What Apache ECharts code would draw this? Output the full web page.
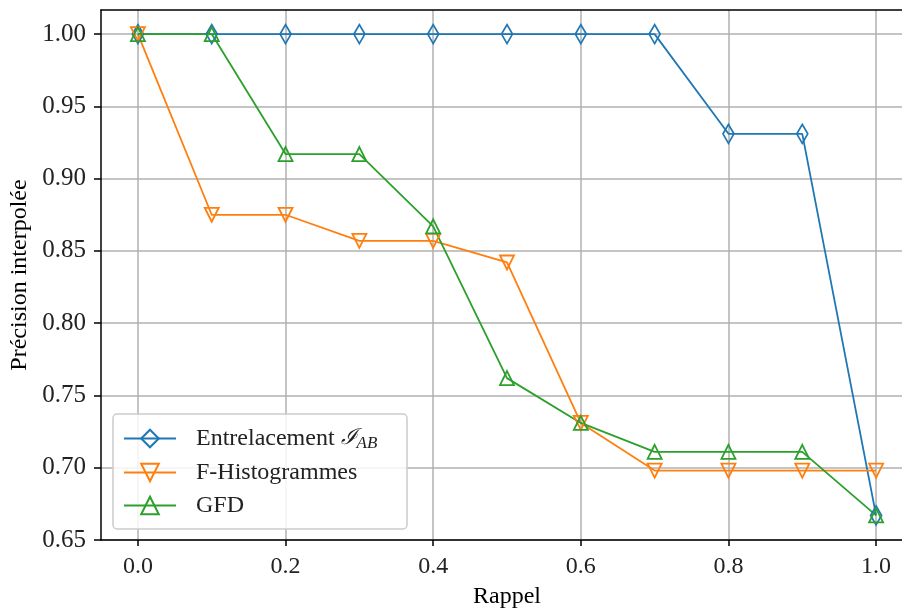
<!DOCTYPE html>
<html>
<head>
<meta charset="utf-8">
<script src="https://cdn.jsdelivr.net/npm/echarts@6/dist/echarts.min.js"></script>
<style>html,body{margin:0;padding:0;background:#fff}#c{width:902px;height:608px}</style>
</head>
<body>
<div id="c"></div>
<script>
const recall = [0.0, 0.1, 0.2, 0.3, 0.4, 0.5, 0.6, 0.7, 0.8, 0.9, 1.0];
const entrelacement = [1.0, 1.0, 1.0, 1.0, 1.0, 1.0, 1.0, 1.0, 0.931, 0.931, 0.667];
const fHistogrammes = [1.0, 0.875, 0.875, 0.857, 0.857, 0.842, 0.731, 0.698, 0.698, 0.698, 0.698];
const gfd = [1.0, 1.0, 0.917, 0.917, 0.867, 0.762, 0.731, 0.711, 0.711, 0.711, 0.667];
const xTicks = [0.0, 0.2, 0.4, 0.6, 0.8, 1.0];
const yTicks = [0.65, 0.70, 0.75, 0.80, 0.85, 0.90, 0.95, 1.00];
const seriesNames = ['Entrelacement', 'F-Histogrammes', 'GFD'];

const FONT = '"Liberation Serif", "DejaVu Serif", serif';
const pairs = ys => recall.map((x, i) => [x, ys[i]]);

const chart = echarts.init(document.getElementById('c'), null, {renderer: 'canvas'});
function mk(name, ys, color, symbol, size, rot) {
  return {
    name: name, type: 'line', data: pairs(ys),
    symbol: symbol, symbolSize: size, symbolRotate: rot,
    showAllSymbol: true,
    lineStyle: {color: color, width: 1.8},
    itemStyle: {color: 'rgba(255,255,255,0)', borderColor: color, borderWidth: 1.8},
    emphasis: {disabled: true},
    animation: false
  };
}
chart.setOption({
  animation: false,
  grid: {left: 101, top: 10, width: 812, height: 530, containLabel: false, outerBoundsMode: 'none'},
  xAxis: [{
    type: 'value', min: -0.05, max: 1.05,
    name: 'Rappel', nameLocation: 'middle', nameGap: 45,
    nameTextStyle: {fontFamily: FONT, fontSize: 24, color: '#000'},
    axisLine: {show: true, onZero: false, lineStyle: {color: '#000', width: 1.5}},
    axisTick: {show: true, length: 6, lineStyle: {color: '#000', width: 1.5}, customValues: xTicks},
    axisLabel: {customValues: xTicks, fontFamily: FONT, fontSize: 24, color: '#222', margin: 15,
      formatter: v => v.toFixed(1)},
    splitLine: {show: true, lineStyle: {color: '#b0b0b0', width: 1.5}}
  }, {
    type: 'value', position: 'top', min: -0.05, max: 1.05,
    axisLine: {show: true, onZero: false, lineStyle: {color: '#000', width: 1.5}},
    axisTick: {show: false}, axisLabel: {show: false}, splitLine: {show: false}
  }],
  yAxis: {
    type: 'value', min: 0.65, max: 1.01667,
    name: 'Précision interpolée', nameLocation: 'middle', nameGap: 68,
    nameTextStyle: {fontFamily: FONT, fontSize: 24, color: '#000'},
    axisLine: {show: true, onZero: false, lineStyle: {color: '#000', width: 1.5}},
    axisTick: {show: true, length: 7, lineStyle: {color: '#000', width: 1.5}, customValues: yTicks},
    axisLabel: {customValues: yTicks, fontFamily: FONT, fontSize: 25, color: '#222', margin: 15,
      formatter: v => v.toFixed(2)},
    splitLine: {show: true, lineStyle: {color: '#b0b0b0', width: 1.5}}
  },
  legend: {
    orient: 'vertical', left: 113, top: 414,
    data: seriesNames,
    itemWidth: 52, itemHeight: 22, itemGap: 8,
    padding: [11, 10, 11, 10],
    backgroundColor: 'rgba(255,255,255,0.85)',
    borderColor: '#cccccc', borderWidth: 1.5, borderRadius: 4,
    selectedMode: false,
    formatter: n => n === 'Entrelacement' ? '{n|Entrelacement }{i|ℐ}{s|AB}' : '{n|' + n + '}',
    textStyle: {
      fontFamily: FONT, fontSize: 24, color: '#222', padding: [0, 0, 0, 15], width: 201, lineHeight: 25,
      rich: {
        n: {fontFamily: FONT, fontSize: 24, color: '#222', lineHeight: 25},
        i: {fontFamily: '"DejaVu Serif", serif', fontStyle: 'italic', fontSize: 22, color: '#222', lineHeight: 25},
        s: {fontFamily: FONT, fontStyle: 'italic', fontSize: 17, color: '#222', lineHeight: 25, padding: [10, 0, 0, 0]}
      }
    }
  },
  series: [
    mk('Entrelacement', entrelacement, '#1f77b4', 'diamond', [11, 19], 0),
    mk('F-Histogrammes', fHistogrammes, '#ff7f0e', 'triangle', 14, 180),
    mk('GFD', gfd, '#2ca02c', 'triangle', 14, 0)
  ]
});
</script>
</body>
</html>
